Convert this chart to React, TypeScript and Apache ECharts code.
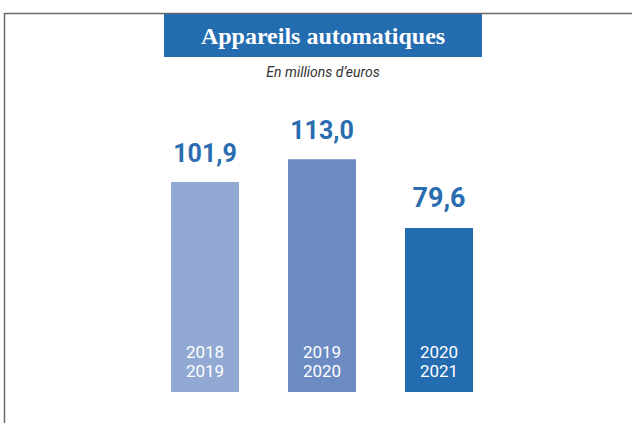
import React, { useEffect, useRef } from "react";
import * as echarts from "echarts";

const categories = ["2018\n2019", "2019\n2020", "2020\n2021"];
const values = [101.9, 113.0, 79.6];
const valueLabels = ["101,9", "113,0", "79,6"];
const barColors = ["#91a9d3", "#6b8bc2", "#236cb0"];
const labelSizes = [25, 25, 27];

export default function App() {
  const ref = useRef<HTMLDivElement>(null);
  useEffect(() => {
    if (!ref.current) return;
    const chart = echarts.init(ref.current, undefined, { renderer: "svg" });
    const sans = "Roboto, 'Liberation Sans', sans-serif";
    chart.setOption({
      animation: false,
      backgroundColor: "#ffffff",
      grid: { left: 146.5, width: 351, bottom: 31, height: 247.3 },
      xAxis: {
        type: "category",
        data: categories,
        axisLine: { show: false },
        axisTick: { show: false },
        axisLabel: {
          inside: true,
          margin: 12,
          color: "#ffffff",
          fontFamily: sans,
          fontSize: 17,
          lineHeight: 19,
          verticalAlign: "bottom",
        },
        z: 10,
      },
      yAxis: {
        type: "value",
        min: 0,
        max: 120,
        show: false,
        splitLine: { show: false },
      },
      series: [
        {
          type: "bar",
          barWidth: 68,
          data: values.map((v, i) => ({
            value: v,
            itemStyle: { color: barColors[i] },
            label: {
              show: true,
              position: "top",
              distance: 16,
              formatter: valueLabels[i],
              color: "#2a6cb0",
              fontFamily: sans,
              fontWeight: "bold",
              fontSize: labelSizes[i],
            },
          })),
        },
      ],
      graphic: [
        {
          type: "rect",
          shape: { x: 4.5, y: 13.5, width: 700, height: 500 },
          style: { fill: "none", stroke: "#6a6a6a", lineWidth: 1.5 },
          silent: true,
        },
        {
          type: "rect",
          shape: { x: 164, y: 14, width: 318, height: 43 },
          style: { fill: "#236cb0" },
        },
        {
          type: "text",
          x: 323,
          y: 36,
          style: {
            text: "Appareils automatiques",
            fill: "#ffffff",
            font: "bold 24px 'Liberation Serif', 'DejaVu Serif', serif",
            textAlign: "center",
            textVerticalAlign: "middle",
          },
        },
        {
          type: "text",
          x: 323,
          y: 72,
          style: {
            text: "En millions d\u2019euros",
            fill: "#333333",
            font: "italic 14px Roboto, 'Liberation Sans', sans-serif",
            textAlign: "center",
            textVerticalAlign: "middle",
          },
        },
      ],
    });
    return () => chart.dispose();
  }, []);
  return (
    <div
      ref={ref}
      style={{ position: "fixed", left: 0, top: 0, width: 632, height: 423 }}
    />
  );
}
